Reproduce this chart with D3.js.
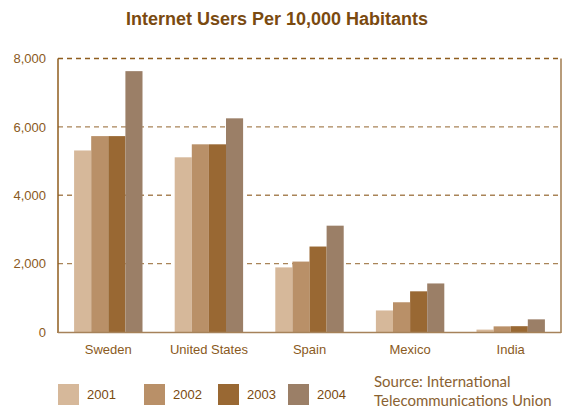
<!DOCTYPE html>
<html>
<head>
<meta charset="utf-8">
<script src="https://cdn.jsdelivr.net/npm/d3@7"></script>
<style>
  html, body { margin: 0; padding: 0; background: #fff; }
  svg { display: block; }
</style>
</head>
<body>
<svg id="chart" width="570" height="410"></svg>
<script>
// Internet users per 10,000 inhabitants, by country and year
const countries = ["Sweden", "United States", "Spain", "Mexico", "India"];
const years = ["2001", "2002", "2003", "2004"];
const users2001 = [5310, 5110, 1890, 630, 70];
const users2002 = [5730, 5490, 2060, 870, 165];
const users2003 = [5730, 5490, 2500, 1190, 170];
const users2004 = [7630, 6250, 3110, 1420, 370];
const yTicks = [0, 2000, 4000, 6000, 8000];
const yearColors = ["#d6b89a", "#b99068", "#996833", "#9b7f67"];

const seriesValues = [users2001, users2002, users2003, users2004];

const svg = d3.select("#chart");
const margin = { left: 58, right: 9, top: 58.5, bottom: 78 };
const W = 570, H = 410;

const x0 = d3.scaleBand()
  .domain(countries)
  .range([margin.left, W - margin.right])
  .paddingInner(0.32)
  .paddingOuter(0.16);
const x1 = d3.scaleBand()
  .domain(years)
  .range([0, x0.bandwidth()]);
const y = d3.scaleLinear()
  .domain([0, 8000])
  .range([H - margin.bottom, margin.top]);

// Title
svg.append("text")
  .attr("x", 277).attr("y", 25)
  .attr("text-anchor", "middle")
  .attr("font-family", "Liberation Sans, Arial, sans-serif")
  .attr("font-weight", "bold")
  .attr("font-size", 18)
  .attr("fill", "#7a4a10")
  .text("Internet Users Per 10,000 Habitants");

// Dashed gridlines
svg.append("g")
  .selectAll("line")
  .data(yTicks.filter(d => d > 0))
  .join("line")
  .attr("x1", margin.left).attr("x2", W - margin.right)
  .attr("y1", d => y(d)).attr("y2", d => y(d))
  .attr("stroke", d => d === 8000 ? "#8f5d1e" : "#a98458")
  .attr("stroke-width", 1.3)
  .attr("stroke-dasharray", "5,4");

// Y axis labels
const yAxis = d3.axisLeft(y)
  .tickValues(yTicks)
  .tickFormat(d3.format(","))
  .tickSize(0)
  .tickPadding(12);
const gy = svg.append("g")
  .attr("transform", `translate(${margin.left},0)`)
  .call(yAxis);
gy.select(".domain").remove();
gy.selectAll("text")
  .attr("font-family", "Liberation Sans, Arial, sans-serif")
  .attr("font-size", 13)
  .attr("fill", "#8a5a22");

// Bars
const groups = svg.append("g")
  .selectAll("g")
  .data(countries)
  .join("g")
  .attr("transform", d => `translate(${x0(d)},0)`);

groups.selectAll("rect")
  .data((c, i) => years.map((yr, j) => ({ year: yr, value: seriesValues[j][i], color: yearColors[j] })))
  .join("rect")
  .attr("x", d => x1(d.year))
  .attr("width", x1.bandwidth())
  .attr("y", d => y(d.value))
  .attr("height", d => y(0) - y(d.value))
  .attr("fill", d => d.color);

// Frame: left axis, right border, baseline
svg.append("line")
  .attr("x1", margin.left).attr("x2", margin.left)
  .attr("y1", margin.top).attr("y2", y(0) + 1)
  .attr("stroke", "#8f5d1e").attr("stroke-width", 1.5);
svg.append("line")
  .attr("x1", W - margin.right).attr("x2", W - margin.right)
  .attr("y1", margin.top).attr("y2", y(0) + 1)
  .attr("stroke", "#b89c7a").attr("stroke-width", 2);
svg.append("line")
  .attr("x1", margin.left).attr("x2", W - margin.right)
  .attr("y1", y(0) + 0.5).attr("y2", y(0) + 0.5)
  .attr("stroke", "#a6825a").attr("stroke-width", 1.5);

// Category labels
const xAxis = d3.axisBottom(x0).tickSize(0).tickPadding(13);
const gx = svg.append("g")
  .attr("transform", `translate(0,${y(0)})`)
  .call(xAxis);
gx.select(".domain").remove();
gx.selectAll("text")
  .attr("font-family", "Liberation Sans, Arial, sans-serif")
  .attr("font-size", 13)
  .attr("fill", "#8a5a22");

// Legend
const legendX = [58, 144, 218, 288];
const legend = svg.append("g")
  .selectAll("g")
  .data(years)
  .join("g")
  .attr("transform", (d, i) => `translate(${legendX[i]},384)`);
legend.append("rect")
  .attr("width", 21).attr("height", 21)
  .attr("fill", (d, i) => yearColors[i]);
legend.append("text")
  .attr("x", 29).attr("y", 15)
  .attr("font-family", "Liberation Sans, Arial, sans-serif")
  .attr("font-size", 13)
  .attr("fill", "#7a4a10")
  .text(d => d);

// Source note
const source = svg.append("text")
  .attr("font-family", "Lato, 'Open Sans', sans-serif")
  .attr("font-size", 15)
  .attr("fill", "#8a6232");
source.append("tspan").attr("x", 374).attr("y", 387).text("Source: International");
source.append("tspan").attr("x", 374).attr("y", 406).text("Telecommunications Union");
</script>
</body>
</html>
